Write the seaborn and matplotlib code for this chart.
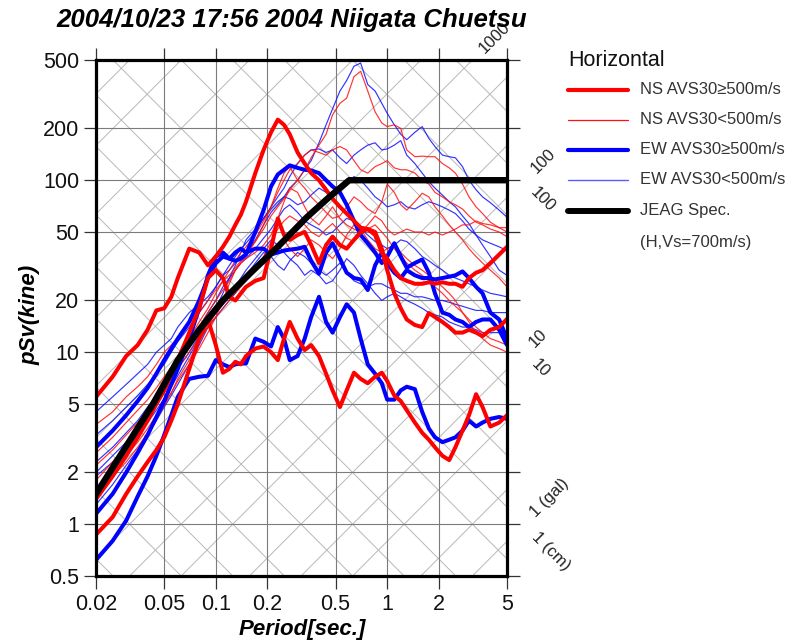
import numpy as np
import matplotlib
matplotlib.use("Agg")
import matplotlib.pyplot as plt
from matplotlib.lines import Line2D
from matplotlib.ticker import NullLocator, FixedLocator, FixedFormatter
import seaborn as sns

sns.set_theme(style="white")
plt.rcParams['font.family'] = ['Liberation Sans', 'DejaVu Sans']

# ---------------------------------------------------------------- data
periods = [0.02, 0.025, 0.03, 0.035, 0.04, 0.045, 0.05, 0.055, 0.06,
           0.07, 0.08, 0.09, 0.1, 0.11, 0.12, 0.13, 0.14, 0.15,
           0.17, 0.19, 0.21, 0.23, 0.25, 0.27, 0.3, 0.33, 0.36, 0.4, 0.44, 0.48,
           0.53, 0.58, 0.64, 0.7, 0.77, 0.85, 0.93,
           1.0, 1.1, 1.2, 1.3, 1.45, 1.6, 1.75, 1.9,
           2.1, 2.3, 2.5, 2.75, 3.0, 3.3, 3.6, 4.0, 4.5, 5.0]

# NS component, AVS30 >= 500 m/s
ns_hard_1 = [5.5, 7.2, 9.5, 11, 13.5, 17.5, 18, 21, 27, 40, 38, 32, 36, 41, 47, 55, 63, 75,
             110, 150, 190, 225, 210, 185, 145, 125, 110, 100, 88, 78,
             70, 64, 58, 53, 52, 48, 38, 35, 30, 27, 26, 25, 25, 25.5, 25,
             25.5, 25, 25, 24, 27, 29, 30, 33, 37, 41]
ns_hard_2 = [1.4, 1.9, 2.5, 3.2, 4, 5, 6, 7.5, 9, 13, 18, 27, 30, 27, 21, 20, 22, 24,
             26, 27, 40, 60, 48, 45, 48, 50, 42, 33, 42, 47,
             42, 40, 45, 50, 52, 50, 40, 30, 22, 18, 15.5, 14.4, 14, 16.9, 16,
             15, 14, 13, 13, 13.5, 13, 12.4, 13.5, 14, 15.6]
ns_hard_3 = [0.87, 1.1, 1.5, 1.9, 2.3, 2.7, 3.2, 4, 5, 8, 12, 15.5, 11, 7.6, 8, 8.8, 8.5, 9.5,
             10.5, 10.8, 10, 9, 12, 15, 12, 10.3, 11, 9.5, 7.5, 6,
             4.8, 6, 7.6, 7, 6.6, 7.2, 7.6, 6.8, 5.6, 5.2, 4.6, 3.9, 3.4, 3.1, 2.8,
             2.5, 2.36, 2.8, 3.5, 4.3, 5.7, 4.8, 3.7, 3.9, 4.3]

# NS component, AVS30 < 500 m/s
ns_soft_1 = [3.8, 4.5, 5.5, 6.3, 7.2, 8.5, 10, 11, 12, 15, 17, 20, 23, 26, 28, 31, 34, 38,
             44, 52, 62, 70, 78, 88, 100, 115, 135, 160, 185, 240,
             280, 300, 400, 430, 330, 250, 215, 205, 210, 200, 150, 137, 138, 137, 137,
             125, 118, 110, 95, 80, 70, 64, 57, 53, 50]
ns_soft_2 = [2.6, 3.2, 3.9, 4.6, 5.3, 6.2, 7.2, 8.2, 9.5, 12, 15, 18, 22, 26, 30, 34, 38, 41,
             48, 58, 70, 85, 100, 115, 125, 140, 150, 145, 140, 150,
             157, 150, 130, 115, 110, 120, 125, 130, 118, 115, 115, 110, 100, 95, 85,
             80, 75, 72, 68, 62, 57, 55, 52, 50, 47]
ns_soft_3 = [2.2, 2.7, 3.3, 3.9, 4.6, 5.4, 6.3, 7.3, 8.5, 11, 14, 17, 20, 23, 26, 30, 33, 36,
             44, 55, 70, 90, 110, 120, 100, 90, 80, 72, 65, 60,
             62, 70, 80, 75, 68, 64, 75, 95, 85, 72, 67, 75, 84, 80, 70,
             62, 55, 50, 45, 40, 36, 33, 30, 27, 24]
ns_soft_4 = [1.8, 2.3, 2.9, 3.5, 4.2, 5, 5.8, 6.8, 8, 10, 12, 14, 16, 18, 20, 23, 25, 27,
             30, 34, 38, 42, 45, 40, 36, 40, 45, 42, 38, 35,
             40, 48, 55, 52, 45, 40, 38, 40, 42, 38, 35, 32, 30, 28, 26,
             24, 22, 20, 17, 15, 13, 12, 11, 10.5, 10]
ns_soft_5 = [1.6, 2.0, 2.5, 3.0, 3.6, 4.3, 5, 5.8, 6.8, 8.5, 10.5, 13, 16, 20, 25, 30, 33, 35,
             38, 42, 48, 60, 75, 90, 85, 70, 60, 55, 62, 70,
             60, 55, 52, 50, 55, 62, 58, 52, 48, 50, 52, 50, 50, 48, 50,
             48, 50, 52, 55, 55, 58, 56, 55, 53, 53]
ns_soft_6 = [1.5, 1.9, 2.3, 2.8, 3.4, 4.1, 4.9, 5.8, 7, 9, 11.5, 14, 17, 19, 21, 22, 24, 26,
             30, 36, 44, 52, 58, 62, 58, 55, 50, 47, 52, 56,
             50, 46, 44, 48, 52, 55, 50, 46, 40, 36, 33, 30, 28, 26, 24,
             22, 20, 18.5, 17, 15.5, 14, 13, 12, 11.5, 11]

# EW component, AVS30 >= 500 m/s
ew_hard_1 = [2.8, 3.5, 4.3, 5.2, 6.2, 7.5, 9, 10.5, 12, 15, 20, 27, 33, 36, 35, 34, 35, 37,
             50, 67, 92, 108, 115, 122, 118, 115, 114, 110, 100, 92,
             85, 72, 58, 48, 43, 38, 33, 36, 43, 36, 31, 33, 34.6, 29, 22,
             17, 16.5, 15.5, 15, 14, 15, 15.5, 15.5, 13.5, 11]
ew_hard_2 = [1.15, 1.5, 2.0, 2.6, 3.3, 4.2, 5.2, 6.5, 8, 12, 18, 28, 36, 38, 35, 38, 40, 38,
             40, 40, 37, 38, 39, 39.5, 40, 41, 34, 28.6, 38, 43,
             35, 29, 27, 26.5, 23, 32, 38, 33, 29, 27, 30, 28, 27, 27, 26.5,
             27, 27.5, 28, 29.5, 27, 24, 22, 17, 15.5, 12]
ew_hard_3 = [0.62, 0.8, 1.05, 1.45, 1.9, 2.5, 3.3, 4.3, 5.5, 7, 7.2, 7.3, 9, 8.5, 8.2, 8.5, 8.6, 8.6,
             12, 11.5, 10.8, 14, 12, 9, 9.5, 12, 16, 21, 15, 13,
             16, 19, 17, 12, 8.5, 7.5, 6.6, 5.3, 5.3, 6, 6.3, 6.1, 4.5, 3.6, 3.2,
             3.0, 3.1, 3.2, 3.5, 4.0, 3.7, 3.9, 4.1, 4.2, 4.1]

# EW component, AVS30 < 500 m/s
ew_soft_1 = [4.5, 5.5, 6.5, 7.5, 8.5, 10, 11, 12, 14, 17, 19, 21, 24, 28, 30, 33, 36, 38,
             45, 55, 65, 72, 80, 90, 100, 115, 130, 165, 210, 260,
             330, 380, 460, 480, 360, 330, 280, 245, 210, 185, 172, 190, 205, 175, 157,
             140, 137, 135, 120, 100, 88, 80, 74, 67, 61]
ew_soft_2 = [3.3, 4, 4.8, 5.6, 6.5, 7.5, 8.5, 10, 11.5, 14, 17, 20, 24, 28, 32, 36, 40, 43,
             50, 60, 70, 80, 90, 105, 125, 140, 150, 152, 145, 150,
             135, 125, 140, 150, 160, 165, 150, 152, 160, 170, 140, 125, 110, 98, 90,
             82, 75, 70, 62, 56, 48, 42, 36, 30, 28]
ew_soft_3 = [2.3, 2.8, 3.4, 4.0, 4.8, 5.6, 6.5, 7.5, 8.5, 11, 14, 17, 20, 24, 27, 30, 33, 35,
             40, 46, 52, 60, 68, 72, 65, 58, 55, 52, 48, 50,
             55, 60, 58, 52, 48, 44, 42, 40, 42, 45, 44, 40, 36, 34, 32,
             30, 28, 27, 26, 25, 24, 23, 22, 21.5, 21]
ew_soft_4 = [2.0, 2.5, 3.0, 3.6, 4.3, 5.1, 6, 7, 8, 10, 12.5, 15, 17, 19, 21, 24, 27, 30,
             35, 40, 45, 42, 38, 35, 32, 28, 30, 28, 25, 26,
             30, 35, 32, 28, 25, 22, 20, 21, 22, 21, 20, 19, 18, 17, 16.5,
             16, 15, 14.5, 14, 14, 13.5, 13, 13, 13, 13]
ew_soft_5 = [1.3, 1.7, 2.2, 2.7, 3.3, 4.0, 4.8, 5.6, 6.5, 8.5, 11, 14, 18, 22, 27, 32, 38, 45,
             52, 60, 68, 75, 80, 78, 72, 75, 82, 90, 85, 80,
             88, 95, 105, 100, 90, 80, 75, 70, 72, 75, 70, 68, 72, 75, 73,
             70, 67, 64, 58, 52, 48, 45, 43, 41, 39]
ew_soft_6 = [1.9, 2.3, 2.8, 3.3, 3.9, 4.6, 5.4, 6.3, 7.3, 9.5, 12, 14, 16, 18, 20, 22, 25, 28,
             33, 38, 36, 32, 30, 34, 38, 36, 33, 30, 28, 30,
             33, 29, 26, 25, 24, 25, 25, 24, 23, 22, 22, 21, 21, 20.5, 20,
             20, 19.5, 19, 18.5, 18, 17.5, 17.5, 17, 17, 17]

# JEAG design spectrum (horizontal, Vs = 700 m/s)
jeag_periods = [0.02, 0.043, 0.06, 0.08, 0.11, 0.16, 0.23, 0.34, 0.46, 0.6, 5.0]
jeag_sv = [1.5, 5.0, 9.0, 13.5, 20, 29, 41, 61, 80, 100, 100]

x_ticks = [0.02, 0.05, 0.1, 0.2, 0.5, 1, 2, 5]
x_tick_labels = ["0.02", "0.05", "0.1", "0.2", "0.5", "1", "2", "5"]
y_ticks = [0.5, 1, 2, 5, 10, 20, 50, 100, 200, 500]
y_tick_labels = ["0.5", "1", "2", "5", "10", "20", "50", "100", "200", "500"]

legend_labels = ["NS AVS30\u2265500m/s", "NS AVS30<500m/s",
                 "EW AVS30\u2265500m/s", "EW AVS30<500m/s", "JEAG Spec."]

# ---------------------------------------------------------------- figure
W, H = 792, 643
fig = plt.figure(figsize=(W / 100, H / 100), dpi=100)


def fx(px):
    return px / W


def fy(py):
    return 1 - py / H


ax = fig.add_axes([fx(96), fy(576), fx(507) - fx(96), fy(60) - fy(576)])
ax.set_xscale('log')
ax.set_yscale('log')

# tripartite grid: constant acceleration (gal) and displacement (cm) lines
tt = np.array([0.005, 20.0])
diag_color = '#b8b8b8'
for k in range(-2, 7):
    for m in (1, 2, 5):
        a = m * 10.0 ** k
        ax.plot(tt, a * tt / (2 * np.pi), color=diag_color, lw=0.7, zorder=0.5)
for k in range(-4, 4):
    for m in (1, 2, 5):
        d = m * 10.0 ** k
        ax.plot(tt, 2 * np.pi * d / tt, color=diag_color, lw=0.7, zorder=0.5)

for xv in x_ticks:
    ax.axvline(xv, color='#7c7c7c', lw=0.8, zorder=0.6)
for yv in y_ticks:
    ax.axhline(yv, color='#7c7c7c', lw=0.8, zorder=0.6)


def draw(values, color, lw, z, alpha=1.0):
    sns.lineplot(x=periods, y=values, ax=ax, color=color, linewidth=lw,
                 zorder=z, alpha=alpha, estimator=None, sort=False, legend=False)


for s in [ew_soft_1, ew_soft_2, ew_soft_3, ew_soft_4, ew_soft_5, ew_soft_6]:
    draw(s, '#1010ff', 0.85, 2, 0.85)
for s in [ns_soft_1, ns_soft_2, ns_soft_3, ns_soft_4, ns_soft_5, ns_soft_6]:
    draw(s, '#ff1010', 0.85, 2.1, 0.85)
for s in [ew_hard_1, ew_hard_2, ew_hard_3]:
    draw(s, '#0000ff', 2.9, 3)
for s in [ns_hard_1, ns_hard_2, ns_hard_3]:
    draw(s, '#ff0000', 2.9, 3.1)

sns.lineplot(x=jeag_periods, y=jeag_sv, ax=ax, color='black', linewidth=4.6,
             zorder=4, estimator=None, sort=False, legend=False)

ax.set_xlim(0.02, 5)
ax.set_ylim(0.5, 500)
ax.xaxis.set_major_locator(FixedLocator(x_ticks))
ax.xaxis.set_major_formatter(FixedFormatter(x_tick_labels))
ax.yaxis.set_major_locator(FixedLocator(y_ticks))
ax.yaxis.set_major_formatter(FixedFormatter(y_tick_labels))
ax.xaxis.set_minor_locator(NullLocator())
ax.yaxis.set_minor_locator(NullLocator())
ax.tick_params(which='major', direction='out', length=9, width=0.9, color='#333333',
               top=True, right=True, bottom=True, left=True,
               labeltop=False, labelright=False, labelsize=15.5, labelcolor='#111111')
ax.tick_params(axis='x', pad=4)
ax.tick_params(axis='y', pad=3)
ax.set_xlabel("")
ax.set_ylabel("")
for sp in ax.spines.values():
    sp.set_visible(True)
    sp.set_color('black')
    sp.set_linewidth(2.3)
    sp.set_zorder(6)

# labels of the diagonal scales, placed on the line extensions
lab_kw = dict(fontsize=12, color='#222222', ha='center', va='center',
              rotation_mode='anchor', clip_on=False)
for val, t_lab, txt in [(1000, 4.25, "1000"), (100, 8.1, "100"),
                        (10, 7.6, "10"), (1, 8.9, "1 (gal)")]:
    ax.text(t_lab, val * t_lab / (2 * np.pi), txt, rotation=45, **lab_kw)
for val, t_lab, txt in [(100, 8.1, "100"), (10, 7.8, "10"), (1, 9.0, "1 (cm)")]:
    ax.text(t_lab, 2 * np.pi * val / t_lab, txt, rotation=-45, **lab_kw)

# titles
fig.text(fx(292), fy(20), "2004/10/23 17:56 2004 Niigata Chuetsu", ha='center', va='center',
         fontsize=18.5, fontweight='bold', style='italic', color='black')
fig.text(fx(302), fy(630), "Period[sec.]", ha='center', va='center',
         fontsize=16, fontweight='bold', style='italic', color='black')
fig.text(fx(30), fy(315), "pSv(kine)", ha='center', va='center', rotation=90,
         fontsize=16, fontweight='bold', style='italic', color='black')

# legend
fig.text(fx(568), fy(61), "Horizontal", ha='left', va='center', fontsize=15.5, color='#111111')
leg_styles = [('#ff0000', 3.0), ('#ff1010', 0.9), ('#0000ff', 3.0), ('#5a5aff', 1.0), ('black', 4.3)]
leg_rows = [90, 120, 150, 180, 211]
for (c, lw), yy, lab in zip(leg_styles, leg_rows, legend_labels):
    fig.add_artist(Line2D([fx(568), fx(628)], [fy(yy), fy(yy)], color=c, lw=lw,
                          transform=fig.transFigure))
    fig.text(fx(640), fy(yy), lab, ha='left', va='center', fontsize=12, color='#333333')
fig.text(fx(640), fy(242), "(H,Vs=700m/s)", ha='left', va='center', fontsize=12, color='#333333')

fig.savefig("out.png", dpi=100)
